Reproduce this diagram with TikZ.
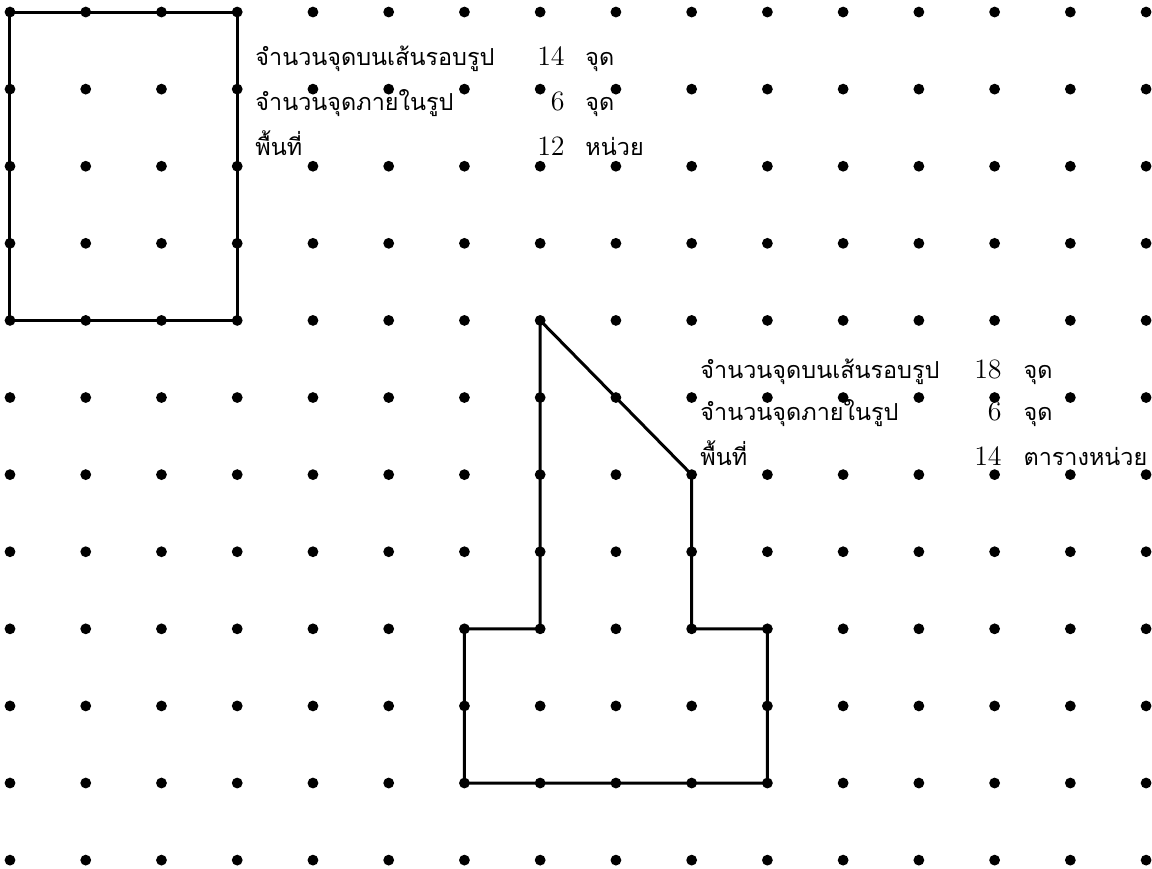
\documentclass[tikz,border=0pt]{standalone}
\usepackage{fontspec}
\newfontfamily\thaifont[Script=Thai]{Loma}
\tikzset{
  rim/.style={line width=1.5pt, line join=miter},
  thtxt/.style={font=\thaifont\fontsize{11.7}{14}\selectfont, inner sep=0pt},
  numtxt/.style={font=\fontsize{14}{16}\selectfont, inner sep=0pt},
}
\begin{document}
\begin{tikzpicture}[x=37.865pt, y=-38.545pt]
            \useasboundingbox (-0.132,-0.156) rectangle (15.078,11.103);
            % rectangle 3 x 4
            \draw[rim] (0,0) rectangle (3,4);
            % second figure
            \draw[rim] (7,4) -- (7,8) -- (6,8) -- (6,10) -- (10,10) -- (10,8) -- (9,8) -- (9,6) -- cycle;
            % dot paper
            \foreach \i in {0,...,15}
                \foreach \j in {0,...,11}
                    \fill (\i,\j) circle (2.7pt);
            % data for the rectangle
            \node[thtxt, anchor=base west] (bound1) at (3.235,0.6875) {จำนวนจุดบนเส้นรอบรูป};
            \node[numtxt, anchor=base east] (nbound1) at (7.329,0.6875) {14};
            \node[thtxt, anchor=base west] (ubound1) at (7.593,0.6875) {จุด};
            \node[thtxt, anchor=base west] (inner1) at (3.235,1.271) {จำนวนจุดภายในรูป};
            \node[numtxt, anchor=base east] (ninner1) at (7.329,1.271) {6};
            \node[thtxt, anchor=base west] (uinner1) at (7.593,1.271) {จุด};
            \node[thtxt, anchor=base west] (area1) at (3.235,1.855) {พื้นที่};
            \node[numtxt, anchor=base east] (narea1) at (7.329,1.855) {12};
            \node[thtxt, anchor=base west] (uarea1) at (7.593,1.855) {หน่วย};
            % data for the second figure
            \node[thtxt, anchor=base west] (bound2) at (9.111,4.748) {จำนวนจุดบนเส้นรอบรูป};
            \node[numtxt, anchor=base east] (nbound2) at (13.099,4.748) {18};
            \node[thtxt, anchor=base west] (ubound2) at (13.377,4.748) {จุด};
            \node[thtxt, anchor=base west] (inner2) at (9.111,5.292) {จำนวนจุดภายในรูป};
            \node[numtxt, anchor=base east] (ninner2) at (13.099,5.292) {6};
            \node[thtxt, anchor=base west] (uinner2) at (13.377,5.292) {จุด};
            \node[thtxt, anchor=base west] (area2) at (9.111,5.876) {พื้นที่};
            \node[numtxt, anchor=base east] (narea2) at (13.099,5.876) {14};
            \node[thtxt, anchor=base west] (uarea2) at (13.377,5.876) {ตารางหน่วย};
        \end{tikzpicture}
\end{document}
